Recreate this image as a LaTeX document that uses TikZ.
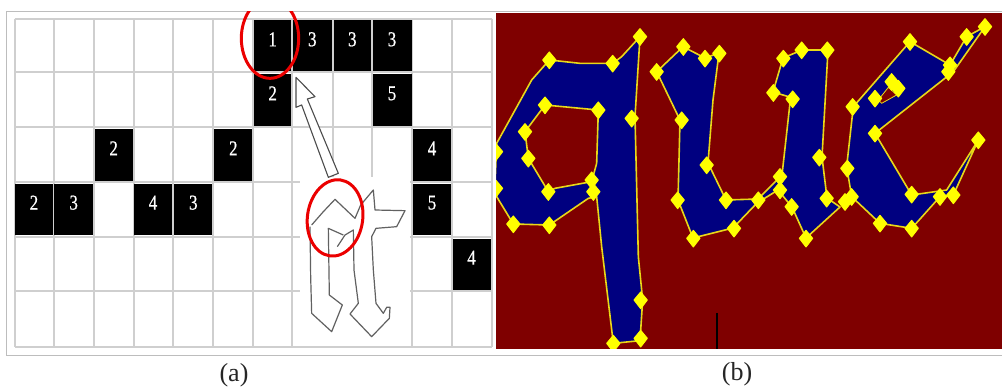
\documentclass[tikz,border=0pt]{standalone}
\usepackage{fontspec}
\setmainfont{Liberation Serif}
\newfontfamily\numfont[FakeBold=0.6]{Liberation Serif}
\definecolor{gridg}{HTML}{CFCFCF}
\definecolor{frameg}{HTML}{BDBDBD}
\definecolor{bgred}{HTML}{7F0000}
\definecolor{inkblue}{HTML}{000080}
\definecolor{ymark}{HTML}{FFFF00}
\definecolor{ylin}{HTML}{E8D818}
\tikzset{
  gridline/.style={draw=gridg,line width=2pt},
  cellbox/.style={fill=black,draw=none},
  cellnum/.style={text=white,font=\numfont\fontsize{17}{17}\selectfont,inner sep=0pt},
  redring/.style={draw=red!92!black,line width=3pt},
  outlineg/.style={draw=black!62,line width=1.2pt,line join=round},
  glyph/.style={fill=inkblue,draw=ylin,line width=1.6pt,line join=round},
  caption/.style={font=\fontsize{26}{26}\selectfont,inner sep=0pt,text=black!85},
}
\newcommand{\ymarks}[1]{\foreach \a/\b in {#1}{\fill[ymark,draw=ymark,line width=1pt,line join=round] (\a,\b-24) -- (\a+20,\b) -- (\a,\b+26) -- (\a-20,\b) -- cycle;}}
\begin{document}
\begin{tikzpicture}[x=1pt,y=-1pt]
\useasboundingbox (0,0) rectangle (1002,388);
\fill[white] (0,0) rectangle (1002,388);
\draw[frameg,line width=.9pt] (6.5,11) -- (1002,11);
\draw[frameg,line width=.9pt] (6.5,11) -- (6.5,355) -- (1002,355);
% grid, panel (a), in 3x coordinates
\begin{scope}[x=.33333pt,y=-.33333pt]
\foreach \v in {44,161,283,401,520,640,760,877,1237,1356,1475}
  \draw[gridline] (\v,56) -- (\v,1040);
\foreach \v in {998,1117}
  \draw[gridline] (\v,56) -- (\v,530);
\foreach \h in {56,217,382,1040}
  \draw[gridline] (44,\h) -- (1475,\h);
\foreach \h in {547,710,874}{
  \draw[gridline] (44,\h) -- (900,\h);
  \draw[gridline] (1230,\h) -- (1475,\h);}
\foreach \l/\r/\t/\bt/\n/\cx/\cy in {
  762/874/60/213/1/818/118, 880/995/60/213/3/937/118, 1002/1113/60/213/3/1057/118, 1120/1235/60/213/3/1176/118,
  762/874/222/378/2/818/280, 1120/1235/222/378/5/1176/280,
  285/398/386/543/2/341/445, 643/757/386/543/2/700/445, 1240/1353/386/543/4/1296/445,
  45/158/551/706/2/102/608, 163/280/551/706/3/221/608, 403/517/551/706/4/459/608, 523/637/551/706/3/580/608, 1240/1353/551/706/5/1296/608,
  1358/1472/716/870/4/1415/773}{
  \fill[cellbox] (\l,\t) rectangle (\r,\bt);
  \node[cellnum] (n\l-\t) at (\cx,\cy) {\scalebox{1}[1.25]{\n}};
}
% hollow arrow
\draw[black!70,line width=1.1pt,line join=round,fill=white] (888,232) -- (945,290) -- (922,297) -- (1015,520) -- (985,532) -- (905,315) -- (888,322) -- cycle;
% red rings
\begin{scope}
\clip (20,36) rectangle (1470,1060);
\draw[redring] (810,115) ellipse [x radius=86,y radius=120];
\end{scope}
\end{scope}
% outlined letters
\begin{scope}[shift={(290,170)},x=.33333pt,y=-.33333pt]
\draw[outlineg] (65,165) -- (100,125) -- (135,88) -- (195,145) -- (212,105) -- (250,60) -- (255,120) -- (345,122) -- (320,170) -- (258,175) -- (245,200) -- (250,300) -- (258,400) -- (280,430) -- (290,412) -- (300,412) -- (298,445) -- (245,500) -- (180,432) -- (205,400) -- (192,300) -- (190,180) -- (165,195) -- (142,230);
\draw[outlineg] (60,170) -- (62,320) -- (65,430) -- (125,485) -- (157,405) -- (118,375) -- (115,175) -- (160,195);
\draw[redring,rotate around={-8:(130,145)}] (135,143) ellipse [x radius=83,y radius=115];
\end{scope}
% panel (b)
\begin{scope}
\clip (496,12.7) rectangle (1002,348.5);
\fill[bgred] (496,12.7) rectangle (1002,348.5);
\draw[black,line width=2pt] (716.7,313) -- (716.7,349);
% q
\begin{scope}[shift={(490,0)},x=.33333pt,y=-.33333pt]
\draw[glyph,even odd rule] (450,110) -- (395,170) -- (368,190) -- (270,190) -- (178,180) -- (125,240) -- (20,430) -- (14,580) -- (70,672) -- (178,675) -- (295,595) -- (320,590) -- (335,740) -- (370,1030) -- (450,1022) -- (458,900) -- (445,770) -- (435,350) -- cycle
 (165,315) -- (325,330) -- (320,490) -- (305,545) -- (195,565) -- (175,575) -- (115,475) -- (105,395) -- cycle;
\end{scope}
% u
\draw[glyph] (656.7,71.7) -- (683,46.7) -- (705,58) -- (719,53) -- (713,100) -- (708,163) -- (726,200) -- (758,199) -- (782,175) -- (790,103) -- (793,98) -- (773,92) -- (783,58) -- (802,50) -- (828,50) -- (822,157) -- (827,198) -- (840,207) -- (806,238) -- (792,207) -- (778,190) -- (757,203) -- (733,228) -- (693,238) -- (678,200) -- (680,120) -- cycle;
% c
\begin{scope}[shift={(740,0)},x=.33333pt,y=-.33333pt]
\draw[glyph] (735,80) -- (680,110) -- (630,195) -- (510,125) -- (340,320) -- (320,500) -- (335,590) -- (420,670) -- (515,685) -- (600,590) -- (640,585) -- (715,420) -- (620,570) -- (515,585) -- (405,400) -- (640,215) -- cycle;
\fill[bgred,draw=ylin,line width=.8pt] (415,300) -- (445,262) -- (470,285) -- (425,310) -- cycle;
\end{scope}
% markers
\begin{scope}[shift={(490,0)},x=.33333pt,y=-.33333pt]
\ymarks{450/110,368/190,178/180,165/315,325/330,105/395,115/475,175/575,305/540,310/575,425/355,70/672,178/675,452/900,452/1015,370/1030,18/455,18/565,650/495,575/360,563/600,708/600,610/715,732/685,500/215,580/140,645/175,688/160}
\end{scope}
\begin{scope}[shift={(740,0)},x=.33333pt,y=-.33333pt]
\ymarks{55/600,120/530,120/570,100/278,158/297,130/175,185/150,262/150,238/472,260/595,155/620,198/715,315/605,335/590,322/505,338/320,405/295,455/245,475/265,405/400,510/125,630/195,625/215,680/110,735/80,715/420,640/585,600/590,515/583,515/685,420/670}
\end{scope}
\end{scope}
\node[caption] (capa) at (234,375) {(a)};
\node[caption] (capb) at (737,374) {(b)};
\end{tikzpicture}
\end{document}
